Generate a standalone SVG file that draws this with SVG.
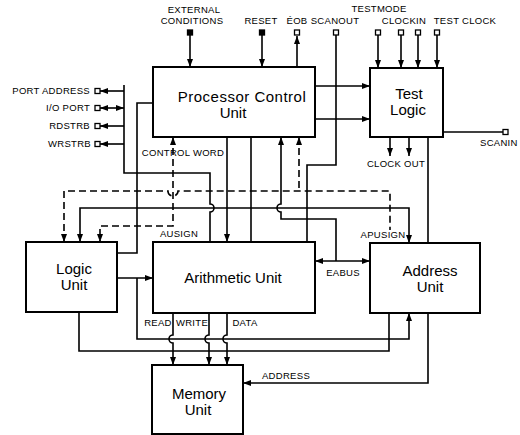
<svg xmlns="http://www.w3.org/2000/svg" width="520" height="435" viewBox="0 0 520 435">
<defs>
<style>
.box{fill:#fff;stroke:#000;stroke-width:2}
.big{font-family:"Liberation Sans",Arial,sans-serif;font-size:15px;fill:#000;text-anchor:middle}
.lbl{font-family:"Liberation Sans",Arial,sans-serif;font-size:9.5px;letter-spacing:0.3px;fill:#000}
.m{text-anchor:middle}
.e{text-anchor:end}
.ln{fill:none;stroke:#000;stroke-width:1.6}
.ds{fill:none;stroke:#000;stroke-width:1.6;stroke-dasharray:7 4}
.ar{marker-end:url(#ah)}
.as{marker-start:url(#ah)}
.sq{fill:#fff;stroke:#000;stroke-width:1.3}
.sqf{fill:#000;stroke:#000;stroke-width:1.3}
</style>
<marker id="ah" markerUnits="userSpaceOnUse" markerWidth="8" markerHeight="6" refX="8" refY="3" orient="auto-start-reverse">
<path d="M0,0 L8,3 L0,6 z" fill="#000"/>
</marker>
</defs>
<rect width="520" height="435" fill="#fff"/>

<g id="connectors">
<!-- top inputs -->
<path class="ln ar" d="M190,35 V67"/>
<path class="ln ar" d="M262,35 V67"/>
<path class="ln ar" d="M297,67 V36"/>
<path class="ln" d="M336,35 V165 H307 V242"/>
<path class="ln ar" d="M378,35 V68"/>
<path class="ln ar" d="M401,35 V68"/>
<path class="ln ar" d="M418,35 V68"/>
<path class="ln ar" d="M437,35 V68"/>
<!-- PCU to Test Logic -->
<path class="ln ar" d="M315,86 H370"/>
<path class="ln ar" d="M315,119 H370"/>
<!-- Test logic outputs -->
<path class="ln" d="M443,132 H503"/>
<path class="ln ar" d="M390,137 V156"/>
<path class="ln ar" d="M409,137 V156"/>
<path class="ln" d="M428,137 V243"/>
<!-- port bus -->
<path class="ln" d="M124,85 V173 H210 V204 A4,4 0 0 1 210,212 V242"/>
<path class="ln ar" d="M124,91 H100"/>
<path class="ln ar as" d="M124,108 H100"/>
<path class="ln ar" d="M124,126 H100"/>
<path class="ln ar" d="M124,144 H100"/>
<!-- PCU to Logic -->
<path class="ln" d="M153,103 H137 V253 H117"/>
<!-- Logic to Arithmetic, branch to Address -->
<path class="ln ar" d="M117,278 H153"/>
<path class="ln ar" d="M137,278 V339 H409 V313"/>
<!-- Address to Logic -->
<path class="ln" d="M389,313 V351 H79 V312"/>
<!-- Address to Memory -->
<path class="ln ar" d="M428,313 V383 H243"/>
<!-- READ WRITE DATA -->
<path class="ln ar" d="M173,313 V335 A4,4 0 0 0 173,343 V365"/>
<path class="ln ar" d="M209,313 V335 A4,4 0 0 0 209,343 V365"/>
<path class="ln ar" d="M227,313 V335 A4,4 0 0 0 227,343 V365"/>
<!-- PCU to Arithmetic -->
<path class="ln ar" d="M227,137 V242"/>
<path class="ln" d="M251,137 V242"/>
<!-- EABUS -->
<path class="ln as" d="M281,137 V204 A4,4 0 0 0 281,212 V219 H336 V261"/>
<path class="ln ar as" d="M315,261 H370"/>
<!-- solid y=208 -->
<path class="ln ar as" d="M80,242 V208 H409 V243"/>
<!-- dashed -->
<path class="ds as" d="M299,137 V191"/>
<path class="ds as" d="M64,242 V191 H168 A5,5 0 0 0 178,191 H390 V230"/>
<path class="ds ar as" d="M173,137 V226 H100 V242"/>
</g>

<g id="terminals">
<rect class="sqf" x="187.5" y="30" width="5" height="5"/>
<rect class="sqf" x="259.5" y="30" width="5" height="5"/>
<rect class="sq" x="294.5" y="30" width="5" height="5"/>
<rect class="sq" x="333.5" y="30" width="5" height="5"/>
<rect class="sq" x="375.5" y="30" width="5" height="5"/>
<rect class="sq" x="398.5" y="30" width="5" height="5"/>
<rect class="sq" x="415.5" y="30" width="5" height="5"/>
<rect class="sq" x="434.5" y="30" width="5" height="5"/>
<rect class="sq" x="503" y="129.5" width="5" height="5"/>
<rect class="sq" x="95" y="88.5" width="5" height="5"/>
<rect class="sq" x="95" y="105.5" width="5" height="5"/>
<rect class="sq" x="95" y="123.5" width="5" height="5"/>
<rect class="sq" x="95" y="141.5" width="5" height="5"/>
</g>

<g id="pcu">
<rect class="box" x="153" y="67" width="162" height="70"/>
<text class="big" x="242" y="102" style="letter-spacing:0.5px">Processor Control</text>
<text class="big" x="233" y="118">Unit</text>
</g>
<g id="test-logic">
<rect class="box" x="370" y="68" width="73" height="69"/>
<text class="big" x="409" y="99">Test</text>
<text class="big" x="408" y="115">Logic</text>
</g>
<g id="logic-unit">
<rect class="box" x="26" y="242" width="91" height="70"/>
<text class="big" x="74" y="274">Logic</text>
<text class="big" x="74" y="290">Unit</text>
</g>
<g id="arithmetic-unit">
<rect class="box" x="153" y="242" width="162" height="71"/>
<text class="big" x="233" y="283">Arithmetic Unit</text>
</g>
<g id="address-unit">
<rect class="box" x="370" y="243" width="110" height="70"/>
<text class="big" x="430" y="276">Address</text>
<text class="big" x="430" y="292">Unit</text>
</g>
<g id="memory-unit">
<rect class="box" x="152" y="365" width="91" height="69"/>
<text class="big" x="199" y="399">Memory</text>
<text class="big" x="198" y="415">Unit</text>
</g>

<g id="labels">
<text class="lbl m" x="194" y="13">EXTERNAL</text>
<text class="lbl m" x="192" y="24">CONDITIONS</text>
<text class="lbl m" x="261" y="24">RESET</text>
<text class="lbl m" x="297" y="24">ÉOB</text>
<text class="lbl m" x="335" y="24">SCANOUT</text>
<text class="lbl m" x="379" y="12">TESTMODE</text>
<text class="lbl m" x="404" y="24">CLOCKIN</text>
<text class="lbl m" x="465" y="24">TEST CLOCK</text>
<text class="lbl e" x="90" y="94">PORT ADDRESS</text>
<text class="lbl e" x="90" y="111">I/O PORT</text>
<text class="lbl e" x="90" y="129">RDSTRB</text>
<text class="lbl e" x="91" y="147">WRSTRB</text>
<text class="lbl m" x="183" y="156">CONTROL WORD</text>
<text class="lbl m" x="179" y="237">AUSIGN</text>
<text class="lbl m" x="383" y="238">APUSIGN</text>
<text class="lbl m" x="396" y="167">CLOCK OUT</text>
<text class="lbl" x="480" y="146">SCANIN</text>
<text class="lbl m" x="343" y="276">EABUS</text>
<text class="lbl m" x="158" y="326">READ</text>
<text class="lbl m" x="192" y="326">WRITE</text>
<text class="lbl m" x="245" y="326">DATA</text>
<text class="lbl m" x="286" y="379">ADDRESS</text>
</g>
</svg>
